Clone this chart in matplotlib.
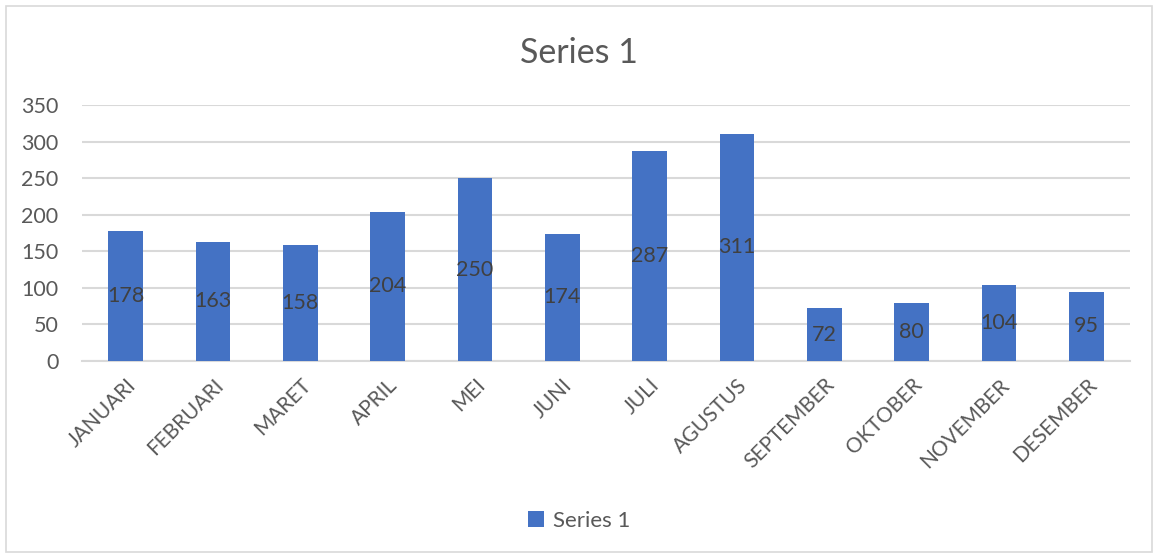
import matplotlib.pyplot as plt
from matplotlib.patches import Rectangle

plt.rcParams["font.family"] = ["Lato", "DejaVu Sans"]

# data
months = ["JANUARI", "FEBRUARI", "MARET", "APRIL", "MEI", "JUNI",
          "JULI", "AGUSTUS", "SEPTEMBER", "OKTOBER", "NOVEMBER", "DESEMBER"]
values = [178, 163, 158, 204, 250, 174, 287, 311, 72, 80, 104, 95]
y_ticks = [0, 50, 100, 150, 200, 250, 300, 350]

bar_color = "#4472C4"
grid_color = "#D9D9D9"
text_color = "#595959"

fig = plt.figure(figsize=(11.58, 5.55), dpi=100)
ax = fig.add_axes([0.0708, 0.3495, 0.905, 0.4613])

# chart frame
fig.patches.append(Rectangle((0.005, 0.005), 0.99, 0.985, transform=fig.transFigure,
                             fill=False, edgecolor="#D9D9D9", linewidth=1.2))

x = range(len(months))
bars = ax.bar(x, values, width=0.4, color=bar_color, label="Series 1", zorder=3)
ax.bar_label(bars, labels=[str(v) for v in values], label_type="center",
             fontsize=15.5, color="#404040")

ax.set_xlim(-0.5, len(months) - 0.5)
ax.set_ylim(0, 350)
ax.set_yticks(y_ticks)
ax.set_xticks(list(x))
ax.set_xticklabels(months, rotation=45, ha="right", rotation_mode="anchor")
ax.tick_params(axis="both", length=0, colors=text_color)
ax.tick_params(axis="x", pad=10, labelsize=15)
ax.tick_params(axis="y", pad=17, labelsize=15.5)
ax.grid(axis="y", color=grid_color, linewidth=1.5, zorder=0)

for side in ["top", "right", "left"]:
    ax.spines[side].set_visible(False)
ax.spines["bottom"].set_color(grid_color)
ax.spines["bottom"].set_linewidth(1.5)

fig.text(0.5, 0.905, "Series 1", ha="center", va="center", fontsize=24.5, color=text_color)

fig.legend(loc="center", bbox_to_anchor=(0.5, 0.062), frameon=False, fontsize=16,
           labelcolor=text_color, handlelength=0.7, handleheight=0.7, handletextpad=0.4)

fig.savefig("out.png", dpi=100)
